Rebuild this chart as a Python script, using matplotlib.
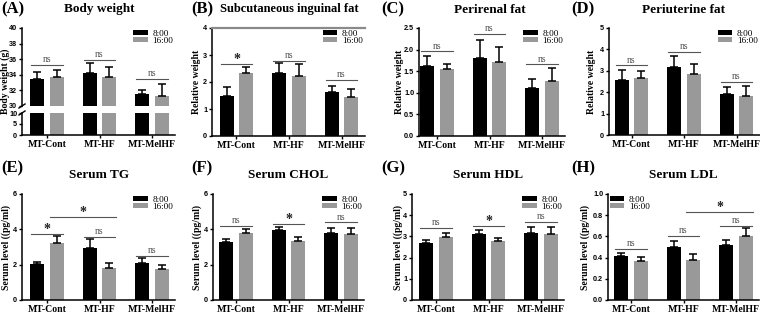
"""Diurnal body weight / fat / serum lipid panels (8:00 vs 16:00)."""
import matplotlib
matplotlib.use("Agg")
import matplotlib.pyplot as plt

SERIF = ["Liberation Serif", "DejaVu Serif"]
SANS = ["Liberation Sans", "DejaVu Sans"]

groups = ["MT-Cont", "MT-HF", "MT-MelHF"]
series = ["8:00", "16:00"]

bw_8 = [33.5, 34.2, 31.5]
bw_8_err = [0.9, 1.25, 0.55]
bw_16 = [33.75, 33.7, 31.25]
bw_16_err = [0.85, 1.35, 1.55]

sub_8 = [1.49, 2.35, 1.64]
sub_8_err = [0.31, 0.35, 0.22]
sub_16 = [2.32, 2.24, 1.45]
sub_16_err = [0.24, 0.41, 0.29]

peri_8 = [1.62, 1.80, 1.10]
peri_8_err = [0.24, 0.43, 0.21]
peri_16 = [1.545, 1.72, 1.28]
peri_16_err = [0.115, 0.33, 0.29]

uter_8 = [2.55, 3.16, 1.91]
uter_8_err = [0.47, 0.51, 0.31]
uter_16 = [2.66, 2.84, 1.83]
uter_16_err = [0.34, 0.47, 0.44]

tg_8 = [2.04, 2.96, 2.11]
tg_8_err = [0.13, 0.47, 0.25]
tg_16 = [3.25, 1.83, 1.77]
tg_16_err = [0.39, 0.25, 0.21]

chol_8 = [3.30, 3.96, 3.81]
chol_8_err = [0.13, 0.19, 0.28]
chol_16 = [3.77, 3.36, 3.74]
chol_16_err = [0.27, 0.19, 0.34]

hdl_8 = [2.69, 3.13, 3.16]
hdl_8_err = [0.12, 0.15, 0.26]
hdl_16 = [2.97, 2.78, 3.13]
hdl_16_err = [0.19, 0.13, 0.29]

ldl_8 = [0.419, 0.50, 0.52]
ldl_8_err = [0.025, 0.053, 0.05]
ldl_16 = [0.366, 0.38, 0.60]
ldl_16_err = [0.044, 0.054, 0.08]

# significance: (first group, last group, series for long bracket or None, level, label)
bw_sig = [(0, 0, None, 35.3, "ns"), (1, 1, None, 35.95, "ns"), (2, 2, None, 33.45, "ns")]
sub_sig = [(0, 0, None, 2.67, "*"), (1, 1, None, 2.78, "ns"), (2, 2, None, 2.07, "ns")]
peri_sig = [(0, 0, None, 1.96, "ns"), (1, 1, None, 2.36, "ns"), (2, 2, None, 1.66, "ns")]
uter_sig = [(0, 0, None, 3.25, "ns"), (1, 1, None, 3.875, "ns"), (2, 2, None, 2.48, "ns")]
tg_sig = [(0, 0, None, 3.74, "*"), (1, 1, None, 3.58, "ns"), (2, 2, None, 2.51, "ns"),
          (0, 1, 1, 4.72, "*")]
chol_sig = [(0, 0, None, 4.21, "ns"), (1, 1, None, 4.28, "*"), (2, 2, None, 4.40, "ns")]
hdl_sig = [(0, 0, None, 3.39, "ns"), (1, 1, None, 3.50, "*"), (2, 2, None, 3.69, "ns")]
ldl_sig = [(0, 0, None, 0.48, "ns"), (1, 1, None, 0.606, "ns"), (2, 2, None, 0.70, "ns"),
           (1, 2, 1, 0.83, "*")]

W, H = 760, 314
BAR_W = 0.27
OFF = 0.186
UNIT = 52.5  # px per group
COLORS = ["#000000", "#999999"]

fig = plt.figure(figsize=(W / 100, H / 100), dpi=100)


def px_axes(left, top, right, bottom):
    return fig.add_axes([left / W, 1 - bottom / H, (right - left) / W, (bottom - top) / H])


def style(ax, xticks=True):
    for s in ("top", "right"):
        ax.spines[s].set_visible(False)
    for s in ("left", "bottom"):
        ax.spines[s].set_linewidth(1.1)
    ax.tick_params(axis="y", direction="out", length=2.5, width=1, pad=1, labelsize=5.2)
    ax.tick_params(axis="x", direction="out", length=2.5, width=1, pad=1, labelsize=7)
    for lab in ax.get_yticklabels():
        lab.set_fontfamily(SANS)
        lab.set_fontweight("bold")
    if xticks:
        ax.set_xticks(range(3))
        ax.set_xticklabels(groups, fontfamily=SERIF, fontweight="bold")
    else:
        ax.set_xticks([])


def draw_bars(ax, pairs):
    for k, (v, e) in enumerate(pairs):
        xs = [i + (2 * k - 1) * OFF for i in range(3)]
        ax.bar(xs, v, width=BAR_W, color=COLORS[k], label=series[k], zorder=2)
        ax.errorbar(xs, v, yerr=[[0] * 3, e], fmt="none", ecolor="black",
                    elinewidth=1.1, capsize=3, capthick=1.1, zorder=3)


def draw_sig(ax, sigs):
    for i, j, k, y, lab in sigs:
        if k is None:
            x1, x2 = i - 0.3, j + 0.3
        else:
            x1 = i + (2 * k - 1) * OFF - BAR_W / 2
            x2 = j + (2 * k - 1) * OFF + BAR_W / 2
        ax.plot([x1, x2], [y, y], color="#555555", lw=0.8, zorder=4, clip_on=False)
        xm = (x1 + x2) / 2
        if lab == "*":
            ax.annotate("*", (xm, y), xytext=(0, -1.5), textcoords="offset points",
                        ha="center", va="bottom", fontsize=10, fontweight="bold",
                        family=SERIF, color="#222222")
        else:
            ax.annotate(lab, (xm, y), xytext=(0, 0.5), textcoords="offset points",
                        ha="center", va="bottom", fontsize=7, family=SERIF,
                        color="#555555")


def add_legend(ax, loc):
    ax.legend(loc=loc, frameon=False, prop={"family": SERIF, "size": 6.6},
              handlelength=1.6, handleheight=0.5, handletextpad=0.5,
              labelspacing=-0.1, borderaxespad=0.1, borderpad=0.1)


def titles(lab, title, x0, cx, y_lab, y_title, size=9.5):
    fig.text((x0 + 1) / W, 1 - y_lab / H, lab, ha="left", va="center",
             fontsize=12, fontweight="bold", family=SERIF)
    fig.text(cx / W, 1 - y_title / H, title, ha="center", va="center",
             fontsize=size, fontweight="bold", family=SERIF)


def ylabel(text, x, top, bottom):
    fig.text(x / W, 1 - (top + bottom) / 2 / H, text, rotation=90, ha="center",
             va="center", fontsize=7, fontweight="bold", family=SERIF)


panels = [
    # label, title, ylabel, bars, sig, ylim, yticks, spine px, center0 px, top, bottom,
    # ylabel x, legend loc, panel x0, label y, title y
    ("(B)", "Subcutaneous inguinal fat", "Relative weight",
     [(sub_8, sub_8_err), (sub_16, sub_16_err)],
     sub_sig, (0, 4), [0, 1, 2, 3, 4], 212, 236.5, 28, 136, 197, "upper right", 190, 9, 9),
    ("(C)", "Perirenal fat", "Relative weight",
     [(peri_8, peri_8_err), (peri_16, peri_16_err)],
     peri_sig, (0, 2.5), [0, 0.5, 1.0, 1.5, 2.0, 2.5], 419, 437, 28, 136, 400, "upper right", 380, 9, 10),
    ("(D)", "Periuterine fat", "Relative weight",
     [(uter_8, uter_8_err), (uter_16, uter_16_err)],
     uter_sig, (0, 5), [0, 1, 2, 3, 4, 5], 609, 631.5, 28, 135, 592, "upper right", 570, 9, 10),
    ("(E)", "Serum TG", "Serum level ((pg/ml)",
     [(tg_8, tg_8_err), (tg_16, tg_16_err)],
     tg_sig, (0, 6), [0, 2, 4, 6], 22, 47, 194, 300, 6, "upper right", 0, 168, 175),
    ("(F)", "Serum CHOL", "Serum level ((pg/ml)",
     [(chol_8, chol_8_err), (chol_16, chol_16_err)],
     chol_sig, (0, 6), [0, 2, 4, 6], 213, 236, 194, 300, 197, "upper right", 190, 168, 175),
    ("(G)", "Serum HDL", "Serum level ((pg/ml)",
     [(hdl_8, hdl_8_err), (hdl_16, hdl_16_err)],
     hdl_sig, (0, 5), [0, 1, 2, 3, 4, 5], 412, 436, 194, 300, 398, "upper right", 380, 168, 175),
    ("(H)", "Serum LDL", "Serum level ((pg/ml)",
     [(ldl_8, ldl_8_err), (ldl_16, ldl_16_err)],
     ldl_sig, (0, 1.0), [0, 0.2, 0.4, 0.6, 0.8, 1.0], 608, 631, 194, 300, 585, "upper left", 570, 168, 175),
]

for (lab, title, ylab, pairs, sig, ylim, yticks, sp, c0, top, bot, ylx, loc,
     x0, ylab_y, ytit_y) in panels:
    right = c0 + 2 * UNIT + 23
    ax = px_axes(sp, top, right, bot)
    draw_bars(ax, pairs)
    ax.set_xlim(-(c0 - sp) / UNIT, 2 + 23 / UNIT)
    ax.set_ylim(*ylim)
    ax.set_yticks(yticks)
    if ylim[1] in (2.5, 1.0):
        ax.set_yticklabels([f"{t:.1f}" for t in yticks])
    style(ax)
    draw_sig(ax, sig)
    add_legend(ax, loc)
    if lab == "(B)":
        ax.spines["top"].set_visible(True)
        ax.spines["top"].set_color("#8a8a8a")
        ax.spines["top"].set_linewidth(1.6)
    titles(lab, title, x0, c0 + UNIT, ylab_y, ytit_y, 9.0 if lab == "(B)" else 9.5)
    ylabel(ylab, ylx, top, bot)

# (A) body weight with broken y axis
sp, c0 = 22, 47
right = c0 + 2 * UNIT + 23
ax_top = px_axes(sp, 28, right, 106)
ax_bot = px_axes(sp, 113, right, 135)
for ax in (ax_top, ax_bot):
    draw_bars(ax, [(bw_8, bw_8_err), (bw_16, bw_16_err)])
    ax.set_xlim(-(c0 - sp) / UNIT, 2 + 23 / UNIT)
ax_top.set_ylim(30, 40)
ax_top.set_yticks([30, 32, 34, 36, 38, 40])
ax_bot.set_ylim(0, 10)
ax_bot.set_yticks([0, 5, 10])
style(ax_top, xticks=False)
ax_top.spines["bottom"].set_visible(False)
style(ax_bot)
draw_sig(ax_top, bw_sig)
add_legend(ax_top, "upper right")
# break marks on the y spine (in pixels around the gap)
for y_px in (106, 113):
    fig.add_artist(plt.Line2D([(sp - 3) / W, (sp + 3) / W],
                              [1 - (y_px + 2) / H, 1 - (y_px - 2) / H],
                              color="black", lw=1))
titles("(A)", "Body weight", 0, c0 + UNIT, 9, 9)
ylabel("Body weight (g)", 5, 28, 135)

fig.savefig("out.png", dpi=100)
